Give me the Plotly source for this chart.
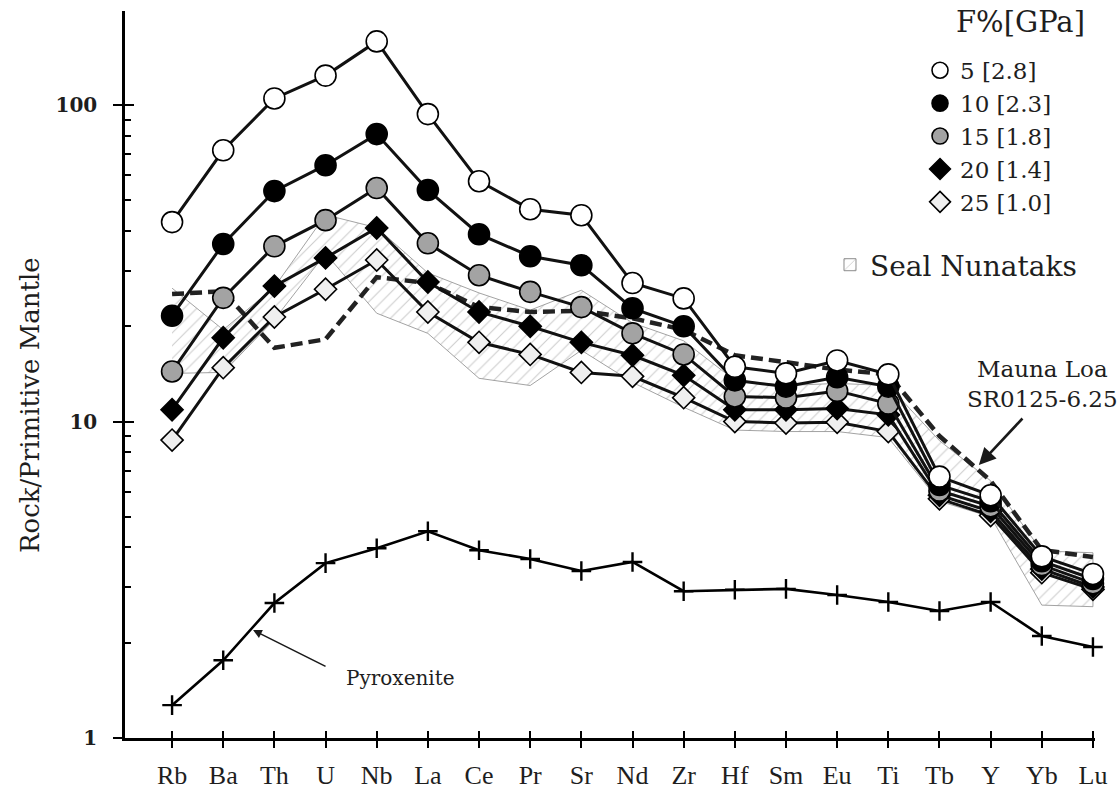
import math
import plotly.graph_objects as go

# Trace elements, primitive-mantle normalised
elements = ["Rb", "Ba", "Th", "U", "Nb", "La", "Ce", "Pr", "Sr", "Nd",
            "Zr", "Hf", "Sm", "Eu", "Ti", "Tb", "Y", "Yb", "Lu"]

# Model melts: F% [GPa]
melt_5 = [42.7, 72, 105, 124, 159, 93.7, 57.5, 46.9, 44.9, 27.4,
          24.5, 14.9, 14.2, 15.6, 14.1, 6.7, 5.85, 3.75, 3.3]
melt_10 = [21.6, 36.4, 53.5, 64.6, 81, 53.9, 39.1, 33.3, 31.2, 22.8,
           20.0, 13.5, 12.9, 13.8, 12.9, 6.3, 5.6, 3.62, 3.18]
melt_15 = [14.4, 24.6, 35.8, 43.3, 54.7, 36.6, 29.0, 25.7, 23.0, 19.0,
           16.3, 12.0, 11.9, 12.5, 11.4, 6.05, 5.4, 3.52, 3.08]
melt_20 = [10.9, 18.4, 26.8, 32.9, 40.9, 27.6, 22.2, 20.0, 17.8, 16.2,
           14.0, 10.9, 10.9, 11.0, 10.5, 5.85, 5.2, 3.42, 3.0]
melt_25 = [8.74, 14.8, 21.4, 26.2, 32.4, 22.2, 17.8, 16.3, 14.3, 13.9,
           11.9, 10.0, 9.9, 9.95, 9.3, 5.7, 5.05, 3.33, 2.95]

melt_labels = ["5 [2.8]", "10 [2.3]", "15 [1.8]", "20 [1.4]", "25 [1.0]"]

# Source pyroxenite
pyroxenite = [1.27, 1.76, 2.67, 3.57, 3.98, 4.5, 3.92, 3.68, 3.37, 3.6,
              2.91, 2.94, 2.96, 2.83, 2.69, 2.52, 2.69, 2.1, 1.94]

# Mauna Loa sample SR0125-6.25
mauna_loa = [25.3, 25.8, 17.1, 18.2, 28.6, 27.4, 23.0, 22.2, 22.4, 21.2,
             19.5, 16.2, 15.4, 14.6, 14.1, 9.0, 6.5, 3.93, 3.73]

# Seal Nunataks field: upper and lower envelope
seal_upper = [26.4, 19.5, 26.6, 45, 41, 29.5, 25.5, 22.5, 26, 20.5,
              18, 13.5, 13, 13.2, 13, 8.7, 6.5, 3.9, 3.85]
seal_lower = [14.2, 14.3, 21, 34, 22, 19, 13.7, 13, 16.8, 13.3,
              11.1, 9.4, 9.3, 9.3, 8.9, 5.6, 5.0, 2.63, 2.6]

y_ticks = [1, 10, 100]
y_minor = [2, 3, 4, 5, 6, 7, 8, 9, 20, 30, 40, 50, 60, 70, 80, 90, 200]

SERIF = "DejaVu Serif"
TICK_SERIF = "Liberation Serif"
INK = "#1e1e1e"
idx = list(range(len(elements)))

HATCH = dict(shape="/", fgcolor="#9a9a9a", bgcolor="rgba(255,255,255,0)",
             size=9, solidity=0.12)

fig = go.Figure()

# hatched field
fig.add_trace(go.Scatter(
    x=idx + idx[::-1], y=seal_upper + seal_lower[::-1],
    mode="lines", fill="toself",
    line=dict(color="#8c8c8c", width=0.8),
    fillcolor="rgba(255,255,255,0)", fillpattern=HATCH,
    showlegend=False, hoverinfo="skip",
))

# pyroxenite
fig.add_trace(go.Scatter(
    x=idx, y=pyroxenite, mode="lines+markers",
    line=dict(color="black", width=2.6),
    marker=dict(symbol="cross-thin", size=14, line=dict(color="black", width=2.4)),
    showlegend=False, cliponaxis=False,
))

# Mauna Loa
fig.add_trace(go.Scatter(
    x=idx, y=mauna_loa, mode="lines",
    line=dict(color="#222222", width=4.5, dash="12px,6px"),
    showlegend=False,
))

styles = [
    dict(symbol="circle", size=21, color="white"),
    dict(symbol="circle", size=21, color="black"),
    dict(symbol="circle", size=21, color="#a3a3a3"),
    dict(symbol="diamond", size=17, color="black"),
    dict(symbol="diamond", size=17, color="#efefef"),
]
series = [melt_5, melt_10, melt_15, melt_20, melt_25]

# draw the lowest curve first so higher curves sit on top
for vals, st in list(zip(series, styles))[::-1]:
    fig.add_trace(go.Scatter(
        x=idx, y=vals, mode="lines+markers",
        line=dict(color="#111111", width=3),
        marker=dict(symbol=st["symbol"], size=st["size"], color=st["color"],
                    line=dict(color="black", width=1.6)),
        showlegend=False, cliponaxis=False,
    ))

# legend keys (markers only)
for lab, st in zip(melt_labels, styles):
    fig.add_trace(go.Scatter(
        x=[None], y=[None], mode="markers", name=lab,
        marker=dict(symbol=st["symbol"], size=st["size"], color=st["color"],
                    line=dict(color="black", width=1.6)),
        legend="legend",
    ))

# legend key for the hatched field
fig.add_trace(go.Bar(
    x=[None], y=[None], name="Seal Nunataks", legend="legend2",
    marker=dict(color="white", pattern=HATCH, line=dict(color="#8c8c8c", width=1)),
))

# the overlay axes need a trace to be drawn
fig.add_trace(go.Scatter(x=[None], y=[None], xaxis="x2", yaxis="y2",
                         showlegend=False, hoverinfo="skip"))

x_range = [-0.92, 18.04]
y_range = [0, 2.2975]

fig.update_layout(
    width=1118, height=792,
    margin=dict(l=125, r=23, t=11, b=54, autoexpand=False),
    paper_bgcolor="white", plot_bgcolor="white",
    font=dict(family=SERIF, color=INK),
    xaxis=dict(range=x_range, tickmode="array", tickvals=idx, ticktext=elements,
               showline=True, linecolor="black", linewidth=2.5, showgrid=False,
               zeroline=False, ticks="outside", ticklen=7, tickwidth=2,
               tickcolor="black", ticklabelstandoff=5, automargin=False,
               tickfont=dict(family=TICK_SERIF, size=26, color=INK)),
    xaxis2=dict(range=x_range, overlaying="x", anchor="y", side="bottom",
                tickmode="array", tickvals=idx, showticklabels=False,
                showline=False, showgrid=False, zeroline=False, automargin=False,
                ticks="inside", ticklen=7, tickwidth=2, tickcolor="black"),
    yaxis=dict(type="log", range=y_range, tickmode="array", tickvals=y_ticks,
               ticktext=["<b>1</b>", "<b>10</b>", "<b>100</b>"],
               showline=True, linecolor="black", linewidth=2.5, showgrid=False,
               zeroline=False, ticks="outside", ticklen=9, tickwidth=2,
               tickcolor="black", ticklabelstandoff=12, automargin=False,
               tickfont=dict(family=SERIF, size=20, color=INK)),
    yaxis2=dict(type="log", range=y_range, overlaying="y", anchor="x", side="left",
                tickmode="array", tickvals=y_ticks, showticklabels=False,
                showline=False, showgrid=False, zeroline=False, automargin=False,
                ticks="inside", ticklen=9, tickwidth=2, tickcolor="black",
                minor=dict(tickmode="array", tickvals=y_minor, ticks="inside",
                           ticklen=6, tickwidth=2, tickcolor="black", showgrid=False)),
    legend=dict(x=0.8196, y=0.948, xanchor="left", yanchor="top",
                font=dict(family=SERIF, size=23, color=INK),
                bgcolor="rgba(0,0,0,0)", itemwidth=30, tracegroupgap=0),
    legend2=dict(x=0.7268, y=0.685, xanchor="left", yanchor="top",
                 font=dict(family=SERIF, size=28, color=INK),
                 bgcolor="rgba(0,0,0,0)", itemwidth=30),
    showlegend=True,
)

# legend heading
fig.add_annotation(text="F%[GPa]", xref="paper", yref="paper",
                   x=0.9227, y=0.985, xanchor="center", yanchor="middle",
                   showarrow=False, font=dict(family=SERIF, size=29, color=INK))

fig.add_annotation(text="Rock/Primitive Mantle", xref="paper", yref="paper",
                   x=-0.098, y=0.458, xanchor="center", yanchor="middle",
                   textangle=-90, showarrow=False,
                   font=dict(family=SERIF, size=26, color=INK))

# Mauna Loa label and arrow (log axis: y given as log10)
fig.add_annotation(text="Mauna Loa<br>SR0125-6.25", x=17.02, y=1.12,
                   showarrow=False, font=dict(family=SERIF, size=23, color=INK))
fig.add_annotation(text="", x=15.77, y=math.log10(7.29), ax=45, ay=-48,
                   showarrow=True, arrowhead=2, arrowsize=1.3, arrowwidth=2.6,
                   arrowcolor="#1a1a1a")

# Pyroxenite label and arrow
fig.add_annotation(text="Pyroxenite", x=4.46, y=0.19,
                   showarrow=False, font=dict(family=SERIF, size=20, color=INK))
fig.add_annotation(text="", x=1.583, y=0.341, ax=74, ay=37,
                   showarrow=True, arrowhead=2, arrowsize=1.1, arrowwidth=1.6,
                   arrowcolor="#1a1a1a")

fig.write_html("out.html")
